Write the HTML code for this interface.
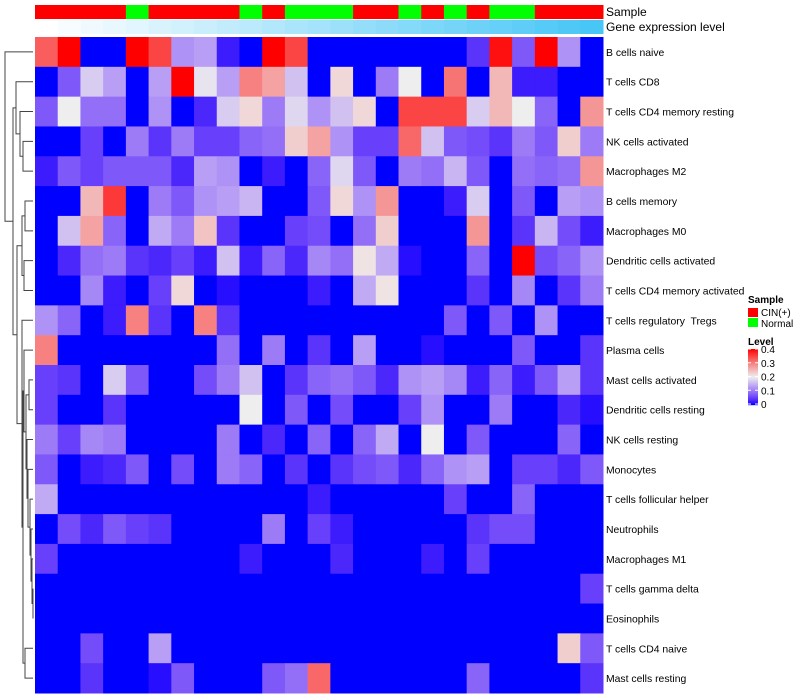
<!DOCTYPE html>
<html><head><meta charset="utf-8"><style>
body{margin:0;background:#fff;}
svg{display:block;font-family:"Liberation Sans",sans-serif;}
</style></head><body>
<svg id="chart" width="800" height="700"></svg>
<script>
const rowNames=["B cells naive","T cells CD8","T cells CD4 memory resting","NK cells activated","Macrophages M2","B cells memory","Macrophages M0","Dendritic cells activated","T cells CD4 memory activated","T cells regulatory  Tregs","Plasma cells","Mast cells activated","Dendritic cells resting","NK cells resting","Monocytes","T cells follicular helper","Neutrophils","Macrophages M1","T cells gamma delta","Eosinophils","T cells CD4 naive","Mast cells resting"];
const sampleGroups=["CIN","CIN","CIN","CIN","Normal","CIN","CIN","CIN","CIN","Normal","CIN","Normal","Normal","Normal","CIN","CIN","Normal","CIN","Normal","CIN","Normal","Normal","CIN","CIN","CIN"];
const r0=[0.33,0.4,0,0,0.4,0.35,0.12,0.13,0.02,0,0.4,0.35,0,0,0,0,0,0,0,0.04,0.39,0.07,0.4,0.12,0];
const r1=[0,0.07,0.17,0.13,0,0.13,0.4,0.19,0.13,0.3,0.27,0.16,0,0.22,0,0.1,0.2,0,0.31,0,0.25,0.02,0.02,0,0];
const r2=[0.07,0.2,0.09,0.09,0,0.12,0,0.03,0.17,0.22,0.1,0.18,0.12,0.16,0.22,0,0.35,0.35,0.35,0.17,0.25,0.2,0.08,0,0.28];
const r3=[0,0,0.05,0,0.1,0.04,0.1,0.05,0.05,0.08,0.09,0.23,0.27,0.12,0.05,0.05,0.32,0.16,0.07,0.06,0.04,0.1,0.07,0.23,0.1];
const r4=[0.02,0.07,0.05,0.07,0.07,0.07,0.03,0.13,0.12,0,0.02,0,0.08,0.18,0.07,0,0.1,0.09,0.15,0.07,0,0.09,0.08,0.09,0.28];
const r5=[0,0,0.25,0.36,0,0.1,0.07,0.12,0.13,0.15,0,0,0.07,0.22,0.12,0.28,0,0,0.02,0.17,0,0.07,0,0.13,0.12];
const r6=[0,0.16,0.27,0.08,0,0.14,0.1,0.24,0.04,0,0,0.05,0.06,0,0.09,0.23,0,0,0,0.28,0,0.04,0.15,0.06,0.02];
const r7=[0,0.03,0.09,0.1,0.04,0.03,0.05,0.02,0.16,0.02,0.08,0.03,0.11,0.09,0.21,0.14,0.01,0,0,0.08,0,0.4,0.06,0.08,0.12];
const r8=[0,0,0.11,0.02,0,0.05,0.22,0,0.01,0,0,0,0.02,0,0.14,0.21,0,0,0,0.04,0,0.11,0,0.04,0.1];
const r9=[0.12,0.08,0,0.02,0.3,0.04,0,0.3,0.04,0,0,0,0,0,0,0,0,0,0.07,0,0.07,0,0.12,0,0];
const r10=[0.3,0,0,0,0,0,0,0,0.09,0,0.1,0,0.04,0,0.13,0,0,0.01,0,0,0,0.07,0,0,0.04];
const r11=[0.05,0.04,0,0.17,0.07,0,0,0.06,0.1,0.16,0,0.04,0.08,0.09,0.07,0.03,0.12,0.13,0.11,0.02,0.08,0.02,0.07,0.13,0.04];
const r12=[0.05,0,0,0.04,0,0,0,0,0,0.2,0,0.07,0,0.06,0,0,0.05,0.12,0,0,0.1,0,0,0.03,0.01];
const r13=[0.1,0.05,0.11,0.1,0,0,0,0,0.1,0,0.03,0,0.08,0,0.08,0.14,0,0.2,0,0.07,0,0,0,0.08,0];
const r14=[0.07,0,0.02,0.03,0.07,0,0.06,0,0.1,0.08,0,0.04,0,0.04,0.06,0.07,0.03,0.08,0.12,0.13,0,0.05,0.05,0.03,0.07];
const r15=[0.14,0,0,0,0,0,0,0,0,0,0,0,0.02,0,0,0,0,0,0.05,0,0,0.08,0,0,0];
const r16=[0,0.06,0.03,0.07,0.05,0.04,0,0,0,0,0.1,0,0.05,0.02,0,0,0,0,0,0.04,0.06,0.06,0,0,0];
const r17=[0.05,0,0,0,0,0,0,0,0,0.02,0,0,0,0.03,0,0,0,0.02,0,0.05,0,0,0,0,0];
const r18=[0,0,0,0,0,0,0,0,0,0,0,0,0,0,0,0,0,0,0,0,0,0,0,0,0.05];
const r19=[0,0,0,0,0,0,0,0,0,0,0,0,0,0,0,0,0,0,0,0,0,0,0,0,0];
const r20=[0,0,0.06,0,0,0.13,0,0,0,0,0,0,0,0,0,0,0,0,0,0,0,0,0,0.23,0.07];
const r21=[0,0,0.04,0,0,0.01,0.07,0,0,0,0.07,0.09,0.32,0,0,0,0,0,0,0.08,0,0,0,0,0.04];
const values=[r0,r1,r2,r3,r4,r5,r6,r7,r8,r9,r10,r11,r12,r13,r14,r15,r16,r17,r18,r19,r20,r21];
const legendTicks=[0.4,0.3,0.2,0.1,0];

const NS="http://www.w3.org/2000/svg";
const svg=document.getElementById('chart');
function mk(tag,attrs,parent){const e=document.createElementNS(NS,tag);for(const k in attrs)e.setAttribute(k,attrs[k]);(parent||svg).appendChild(e);return e;}
const X0=35,Y0=37,W=568,H=656,nC=25,nR=22,cw=W/nC,ch=H/nR;
const xs=c=>X0+c*cw, ys=r=>Y0+r*ch;
function col(v){
  v=Math.max(0,Math.min(0.4,v));
  if(v<=0.2){const t=v/0.2;return `rgb(${Math.round(238*Math.pow(t,0.6))},${Math.round(238*Math.pow(t,0.95))},${Math.round(255-17*t)})`;}
  const u=(v-0.2)/0.2;const gb=Math.round(238*Math.pow(1-u,0.9));return `rgb(${Math.round(238+17*u)},${gb},${gb})`;
}
sampleGroups.forEach((g,c)=>{
  const r=mk('rect',{x:xs(c),y:5,width:cw+0.5,height:14,fill:g==="CIN"?"#FF0000":"#00FF00"});
  
  
  const t=c/(nC-1);
  const e=mk('rect',{x:xs(c),y:20,width:cw+0.5,height:14,fill:`rgb(${Math.round(255-183*t)},${Math.round(255-57*t)},${Math.round(255-9*t)})`});
  
  
});
let t1=mk('text',{x:606,y:16,'font-size':12,fill:'#000'});t1.textContent='Sample';

let t2=mk('text',{x:606,y:31,'font-size':12,fill:'#000'});t2.textContent='Gene expression level';

values.forEach((row,r)=>row.forEach((v,c)=>{
  const e=mk('rect',{x:xs(c),y:ys(r),width:cw+0.5,height:ch+0.5,fill:col(v)});
  
  
}));
rowNames.forEach((n,r)=>{
  const t=mk('text',{x:606,y:ys(r)+ch/2+4,'font-size':10.4,fill:'#000','xml:space':'preserve',style:'white-space:pre'});t.textContent=n;
  
  
});
const tree=[5,0,[13,[16,1,[20,2,[23,3,4]]],[17,[22,[25,5,6],[24,7,8]],[22,9,[23,[24,10,[26,[29,11,12],[27,13,[28,14,[30,15,[31,16,[32,17,[33,18,19]]]]]]]],[25,20,21]]]]]];
const dg=mk('g',{stroke:'#444','stroke-width':1,fill:'none'});

function draw(n){
  if(typeof n==='number')return {x:33,y:ys(n)+ch/2};
  const a=draw(n[1]),b=draw(n[2]),x=n[0];
  mk('path',{d:`M${a.x},${a.y}H${x}V${b.y}H${b.x}`},dg);
  return {x:x,y:(a.y+b.y)/2};
}
draw(tree);
const lg=mk('g',{});
let s=mk('text',{x:748,y:303,'font-size':10,'font-weight':'bold'},lg);s.textContent='Sample';
mk('rect',{x:748,y:308,width:10,height:9,fill:'#FF0000'},lg);
let a=mk('text',{x:761,y:316,'font-size':10},lg);a.textContent='CIN(+)';
mk('rect',{x:748,y:318,width:10,height:9,fill:'#00FF00'},lg);
let b=mk('text',{x:761,y:327,'font-size':10},lg);b.textContent='Normal';
let l=mk('text',{x:748,y:345,'font-size':10,'font-weight':'bold'},lg);l.textContent='Level';
for(let i=0;i<56;i++){mk('rect',{x:748,y:349+i,width:10,height:1.2,fill:col(0.4*(1-i/55))},lg);}
legendTicks.forEach(v=>{
  const y=349+55*(1-v/0.4);
  mk('line',{x1:748,x2:751,y1:y,y2:y,stroke:'#fff'},lg);
  mk('line',{x1:755,x2:758,y1:y,y2:y,stroke:'#fff'},lg);
  const t=mk('text',{x:761,y:y+4,'font-size':10},lg);t.textContent=String(v);
  
  
});
</script>
</body></html>
